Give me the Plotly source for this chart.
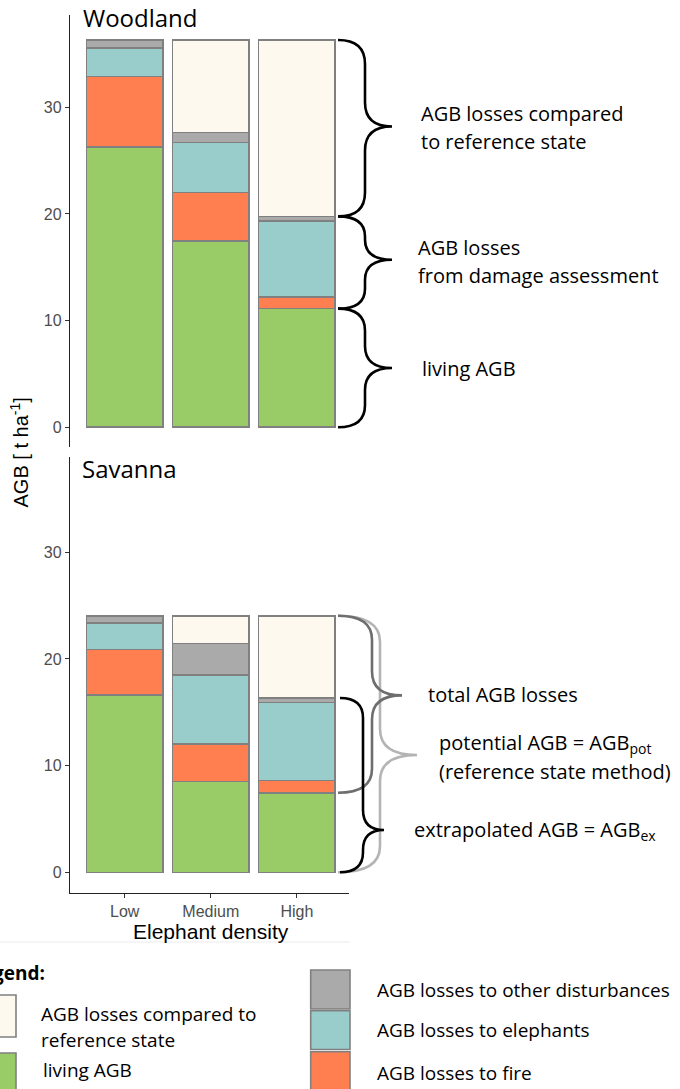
import plotly.graph_objects as go

# ---------------- data ----------------
categories = ["Low", "Medium", "High"]

# Woodland (t/ha), stacked bottom -> top
wood_living = [26.3, 17.46, 11.12]
wood_fire = [6.6, 4.54, 1.08]
wood_elephants = [2.65, 4.7, 7.13]
wood_other = [0.75, 0.95, 0.44]
wood_reference = [0.0, 8.65, 16.53]

# Savanna (t/ha)
sav_living = [16.6, 8.53, 7.46]
sav_fire = [4.3, 3.47, 1.16]
sav_elephants = [2.45, 6.5, 7.28]
sav_other = [0.7, 2.95, 0.44]
sav_reference = [0.0, 2.6, 7.71]

y_ticks = [0, 10, 20, 30]

series_names = ["living AGB", "AGB losses to fire", "AGB losses to elephants",
                "AGB losses to other disturbances", "AGB losses compared to reference state"]

# ---------------- style ----------------
W, H = 680, 1089
C_GREEN = "#99CC66"
C_ORANGE = "#FF7F50"
C_TEAL = "#99CDCB"
C_GREY = "#AAAAAA"
C_CREAM = "#FEF9EF"
C_EDGE = "#808080"
colors = [C_GREEN, C_ORANGE, C_TEAL, C_GREY, C_CREAM]

SANS = "Open Sans"
ARIAL = "Liberation Sans, Arial"

def px_x(p):
    return p / W

def px_y(p):
    return 1 - p / H

X_DOM = [px_x(70), px_x(348.5)]
X_RANGE = [-0.635, 2.6]
Y1_DOM = [px_y(446.7), px_y(15)]
Y1_RANGE = [-1.82, 38.65]
Y2_DOM = [px_y(892.7), px_y(457.3)]
Y2_RANGE = [-1.91, 38.9]

fig = go.Figure()

def add_stack(vals_list, xa, ya):
    for name, vals, col in zip(series_names, vals_list, colors):
        fig.add_trace(go.Bar(
            x=categories,
            y=[v if v > 0 else None for v in vals],
            name=name, marker=dict(color=col, line=dict(color=C_EDGE, width=1.6)),
            width=0.89, xaxis=xa, yaxis=ya, showlegend=False, hoverinfo="skip"))

add_stack([wood_living, wood_fire, wood_elephants, wood_other, wood_reference], "x", "y")
add_stack([sav_living, sav_fire, sav_elephants, sav_other, sav_reference], "x2", "y2")

axis_common = dict(showgrid=False, zeroline=False, showline=True, linecolor="#222222",
                   linewidth=1.4, ticks="outside", ticklen=4, tickcolor="#333333",
                   tickfont=dict(family=ARIAL, size=16, color="#4D4D4D"))

fig.update_layout(
    width=W, height=H, margin=dict(l=0, r=0, t=0, b=0),
    paper_bgcolor="white", plot_bgcolor="rgba(0,0,0,0)",
    barmode="stack", bargap=0.11,
    xaxis=dict(domain=X_DOM, range=X_RANGE, anchor="y", visible=False,
               categoryorder="array", categoryarray=categories),
    yaxis=dict(domain=Y1_DOM, range=Y1_RANGE, anchor="x", tickvals=y_ticks, **axis_common),
    xaxis2=dict(domain=X_DOM, range=X_RANGE, anchor="y2",
                categoryorder="array", categoryarray=categories, **axis_common),
    yaxis2=dict(domain=Y2_DOM, range=Y2_RANGE, anchor="x2", tickvals=y_ticks, **axis_common),
)

# ---------------- braces ----------------
PXU1 = (Y1_DOM[1] - Y1_DOM[0]) * H / (Y1_RANGE[1] - Y1_RANGE[0])
PXU2 = (Y2_DOM[1] - Y2_DOM[0]) * H / (Y2_RANGE[1] - Y2_RANGE[0])

def brace(x0, xv, xt, yT, yB, frac, r_px, pxu, yref, color, width=2.6):
    yM = yB + frac * (yT - yB)
    r = r_px / pxu
    a, v, t = px_x(x0), px_x(xv), px_x(xt)
    path = (f"M {a},{yT} Q {v},{yT} {v},{yT - r} L {v},{yM + r} "
            f"Q {v},{yM} {t},{yM} Q {v},{yM} {v},{yM - r} "
            f"L {v},{yB + r} Q {v},{yB} {a},{yB}")
    fig.add_shape(type="path", path=path, xref="paper", yref=yref,
                  line=dict(color=color, width=width), layer="above")

def cum(lists, i, n):
    return sum(l[i] for l in lists[:n])

wood_lists = [wood_living, wood_fire, wood_elephants, wood_other, wood_reference]
sav_lists = [sav_living, sav_fire, sav_elephants, sav_other, sav_reference]
hi = 2
w_top = cum(wood_lists, hi, 5)
w_dmg = cum(wood_lists, hi, 4)
w_liv = cum(wood_lists, hi, 1)
brace(338, 365, 392, w_top, w_dmg, 0.51, 24, PXU1, "y", "black")
brace(338, 365, 392, w_dmg, w_liv, 0.53, 20, PXU1, "y", "black")
brace(338, 365, 392, w_liv, 0, 0.5, 22, PXU1, "y", "black")

s_top = cum(sav_lists, hi, 5)
s_dmg = cum(sav_lists, hi, 4)
s_liv = cum(sav_lists, hi, 1)
brace(338, 380, 417, s_top, 0, 0.457, 26, PXU2, "y2", "#B4B4B4")
brace(338, 372, 402, s_top, s_liv, 0.55, 24, PXU2, "y2", "#6E6E6E")
brace(340, 363, 384, s_dmg, 0, 0.243, 20, PXU2, "y2", "black")

# ---------------- annotations ----------------
def txt(x, y, s, size=20, family=SANS, color="black", xanchor="left", **kw):
    fig.add_annotation(x=px_x(x), y=px_y(y), xref="paper", yref="paper", text=s,
                       showarrow=False, xanchor=xanchor, yanchor="middle",
                       font=dict(family=family, size=size, color=color), **kw)

txt(81, 17, "Woodland", size=24)
txt(80, 468, "Savanna", size=24)

txt(419, 113, "AGB losses compared")
txt(419, 141.7, "to reference state")
txt(416, 247.3, "AGB losses")
txt(416, 275, "from damage assessment")
txt(420, 368.3, "living AGB")

txt(425.7, 694, "total AGB losses")
txt(437.3, 743.3, "potential AGB = AGB<sub>pot</sub>")
txt(437.3, 771.7, "(reference state method)")
txt(411.7, 830, "extrapolated AGB = AGB<sub>ex</sub>")

txt(18.5, 453, "AGB [ t ha<sup>-1</sup>]", size=20, family=ARIAL, xanchor="center", textangle=-90)
txt(210.5, 931.7, "Elephant density", size=21, family=ARIAL, xanchor="center")

# faint separator line
fig.add_shape(type="line", xref="paper", yref="paper", x0=0, x1=px_x(350),
              y0=px_y(942), y1=px_y(942), line=dict(color="#EBEBEB", width=1))

# ---------------- custom legend ----------------
txt(46.7, 973, "<b>Legend:</b>", size=19, xanchor="right")

def box(x0, x1, y0, y1, col):
    fig.add_shape(type="rect", xref="paper", yref="paper",
                  x0=px_x(x0), x1=px_x(x1), y0=px_y(y1), y1=px_y(y0),
                  fillcolor=col, line=dict(color=C_EDGE, width=1.6))

box(-20, 16, 995, 1037, C_CREAM)
box(-20, 16, 1053, 1100, C_GREEN)
box(310.7, 350, 970, 1009, C_GREY)
box(310.7, 350, 1010.7, 1049.5, C_TEAL)
box(310.7, 350, 1051.7, 1100, C_ORANGE)

txt(39, 1014, "AGB losses compared to", size=19)
txt(39, 1040, "reference state", size=19)
txt(41, 1070, "living AGB", size=19)
txt(375, 990, "AGB losses to other disturbances", size=19)
txt(375, 1030, "AGB losses to elephants", size=19)
txt(375, 1073, "AGB losses to fire", size=19)

fig.write_html("out.html", config={"displayModeBar": False},
               post_script="document.body.style.margin='0';document.body.style.overflow='hidden';")
